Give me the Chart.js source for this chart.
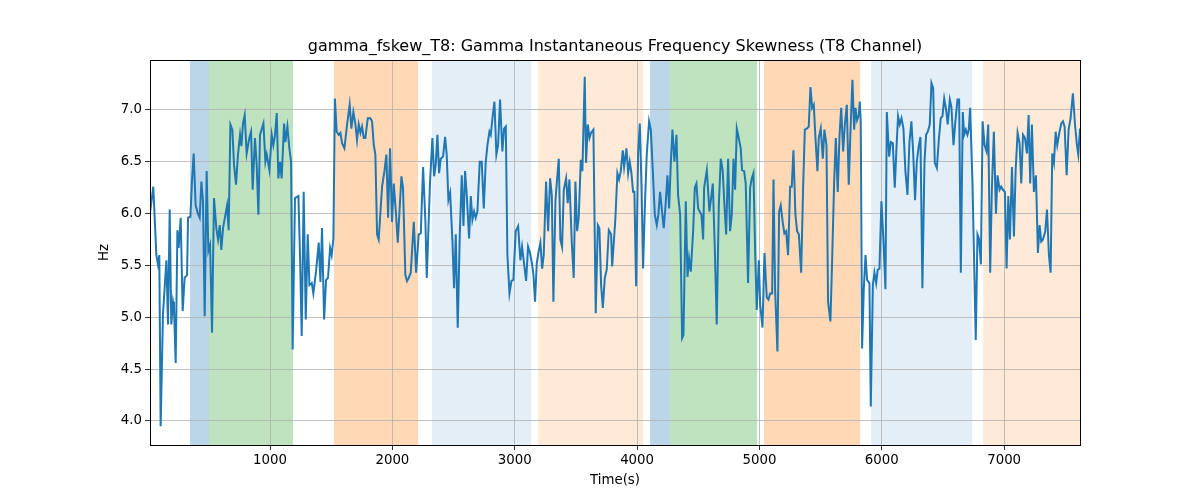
<!DOCTYPE html>
<html>
<head>
<meta charset="utf-8">
<script src="https://cdn.jsdelivr.net/npm/chart.js@4"></script>
<style>
  body { margin: 0; background: #fff; }
  #Plot { display: block; }
</style>
</head>
<body>
<canvas id="Plot" width="1200" height="500"></canvas>
<script>
// sample times (s) and skewness values (Hz)
var timeSec = [
  20, 46, 71, 84, 95, 106, 125, 153, 166, 180,
  193, 207, 215, 229, 243, 253, 270, 286, 302, 322,
  330, 349, 362, 376, 392, 411, 425, 439, 452, 466,
  482, 496, 510, 526, 542, 561, 575, 589, 602, 616,
  649, 662, 676, 692, 706, 722, 738, 755, 766, 779,
  793, 809, 831, 845, 858, 877, 891, 905, 918, 946,
  962, 973, 995, 1014, 1027, 1041, 1055, 1068, 1082, 1095,
  1115, 1125, 1142, 1158, 1172, 1185, 1204, 1232, 1245, 1259,
  1275, 1292, 1308, 1322, 1341, 1354, 1376, 1398, 1412, 1425,
  1442, 1458, 1474, 1491, 1504, 1518, 1530,
  1545, 1561, 1575, 1589, 1608, 1630, 1651, 1665, 1681, 1698,
  1711, 1725, 1739, 1752, 1766, 1779, 1799, 1820, 1834, 1848,
  1861, 1875, 1888, 1916, 1935, 1951, 1965, 1981, 1997, 2011,
  2030, 2044, 2074, 2087, 2106, 2120, 2134, 2150, 2175, 2194,
  2215, 2232, 2251, 2270, 2281,
  2308, 2327, 2341, 2354, 2368, 2382, 2395, 2414, 2431, 2444,
  2458, 2472, 2491, 2504, 2518, 2534, 2551, 2567, 2581, 2594,
  2608, 2627, 2641, 2654, 2668, 2681, 2695, 2714, 2730, 2747,
  2763, 2777, 2793, 2804, 2818, 2834, 2850, 2864, 2880, 2899,
  2913, 2927, 2940, 2957, 2973, 2989, 3008, 3028,
  3046, 3060, 3074, 3093, 3109, 3125, 3142, 3153, 3166, 3180,
  3196, 3210, 3224, 3237, 3256, 3273, 3289, 3303, 3316, 3333,
  3346, 3360, 3373, 3387, 3401, 3420, 3433, 3447, 3466, 3482,
  3496, 3510, 3523, 3540, 3553, 3572, 3583, 3597, 3611, 3624,
  3643, 3662, 3679, 3692, 3706, 3720, 3736, 3752, 3769, 3788,
  3796, 3812, 3823, 3839, 3853, 3867, 3883, 3894, 3913, 3927,
  3940, 3954, 3967, 3978, 3992, 4008, 4022, 4036, 4049, 4063,
  4079, 4098, 4112, 4125, 4145, 4161, 4174, 4188, 4204, 4218,
  4232, 4248, 4262, 4275, 4289, 4305, 4322, 4335, 4352, 4368,
  4379, 4398, 4412, 4425, 4439, 4458, 4472, 4485, 4499, 4512,
  4526, 4540,
  4548, 4570, 4591, 4605, 4619, 4635, 4651, 4668, 4684, 4700,
  4714, 4728, 4744, 4760, 4774, 4788, 4801, 4815, 4831, 4847,
  4858, 4875, 4888, 4907, 4924, 4937, 4951, 4965, 4978, 4995,
  5006, 5025, 5041, 5060, 5074, 5087, 5104, 5115, 5128, 5147,
  5161, 5174, 5191, 5204, 5218, 5234, 5251, 5264, 5278,
  5294, 5308, 5322, 5341, 5357, 5371, 5387, 5403, 5417, 5431,
  5444, 5458, 5474, 5485, 5501, 5518, 5531, 5548, 5561, 5580,
  5594, 5610, 5624, 5640, 5654, 5668, 5684, 5698, 5714, 5730,
  5744, 5760, 5774, 5785, 5798, 5812, 5820, 5828, 5839, 5853,
  5867, 5880, 5899, 5910, 5927, 5940, 5954, 5967, 5981, 5997,
  6014, 6030, 6041,
  6060, 6074, 6090, 6106, 6120, 6133, 6147, 6161, 6177, 6193,
  6210, 6226, 6242, 6256, 6272, 6286, 6302, 6316, 6332, 6349,
  6362, 6376, 6392, 6406, 6420, 6433, 6450, 6466, 6482, 6496,
  6510, 6526, 6539, 6556, 6569, 6586, 6602, 6619, 6632, 6646,
  6662, 6673, 6687, 6700, 6711, 6722, 6741, 6768, 6782,
  6794, 6810, 6824, 6840, 6856, 6870, 6886, 6900, 6916, 6933,
  6946, 6963, 6976, 6990, 7006, 7020, 7034, 7047, 7064, 7080,
  7094, 7110, 7126, 7140, 7154, 7170, 7186, 7200, 7213, 7227,
  7243, 7260, 7276, 7290, 7303, 7317, 7336, 7350, 7366, 7380,
  7393, 7407, 7421, 7434, 7451, 7467, 7481, 7494, 7511, 7527,
  7543, 7562, 7579, 7595, 7606, 7620
];
var skewHz = [
  6.02, 6.26, 5.60, 5.51, 5.60, 3.95, 5.03, 5.55, 4.93, 6.04,
  4.93, 5.15, 5.09, 4.56, 5.84, 5.67, 5.96, 5.06, 5.38, 5.41,
  5.96, 5.97, 6.31, 6.58, 6.08, 6.00, 5.96, 6.31, 6.12, 5.01,
  6.41, 5.64, 5.70, 4.85, 6.15, 5.86, 5.75, 5.89, 5.65, 5.86,
  6.08, 5.84, 6.86, 6.81, 6.47, 6.28, 6.57, 6.76, 6.65, 6.87,
  6.95, 6.58, 6.73, 6.79, 6.23, 6.73, 6.47, 5.99, 6.76, 6.87,
  6.50, 6.57, 6.42, 6.76, 6.66, 6.76, 6.97, 6.34, 6.50, 6.34,
  6.87, 6.69, 6.84, 6.63, 6.50, 4.69, 6.15, 6.17, 5.60, 4.82,
  6.21, 4.98, 5.80, 5.31, 5.33, 5.23, 5.44, 5.72, 5.34, 5.86,
  4.98, 5.36, 5.38, 5.67, 5.60, 5.76, 7.11,
  6.79, 6.76, 6.78, 6.68, 6.63, 6.86, 7.05, 6.82, 6.98, 6.86,
  6.71, 6.86, 6.78, 6.84, 6.73, 6.73, 6.92, 6.92, 6.89, 6.66,
  6.57, 5.80, 5.75, 6.26, 6.41, 6.57, 5.96, 6.63, 5.92, 6.29,
  5.99, 5.72, 6.36, 6.25, 5.41, 5.35, 5.38, 5.43, 5.92, 5.43,
  5.80, 5.81, 6.45, 5.92, 5.38,
  6.31, 6.73, 6.36, 6.47, 6.76, 6.39, 6.53, 6.55, 6.74, 6.57,
  6.13, 6.20, 5.73, 5.28, 5.80, 4.90, 5.80, 6.37, 5.88, 6.41,
  6.18, 5.76, 6.17, 5.94, 6.02, 5.96, 6.02, 6.50, 6.50, 6.05,
  6.50, 6.66, 6.79, 6.76, 6.92, 7.08, 6.57, 6.66, 7.10, 6.60,
  6.82, 6.84, 5.60, 5.23, 5.35, 5.36, 5.83, 5.88,
  5.55, 5.68, 5.54, 5.35, 5.68, 5.62, 5.51, 5.41, 5.15, 5.52,
  5.64, 5.72, 5.47, 5.60, 6.31, 5.83, 6.34, 6.18, 5.15, 6.13,
  6.33, 6.53, 5.75, 5.68, 6.23, 6.34, 6.10, 6.33, 5.73, 5.38,
  6.31, 5.83, 5.96, 6.52, 6.41, 7.32, 6.49, 6.86, 6.73, 6.78,
  6.81, 5.04, 5.89, 5.86, 5.31, 5.09, 5.38, 5.46, 5.84, 5.80,
  5.49, 5.76, 5.96, 6.39, 6.33, 6.41, 6.61, 6.45, 6.63, 6.39,
  6.50, 6.39, 6.21, 6.21, 5.30, 6.57, 6.87, 6.28, 5.47, 6.05,
  6.57, 6.89, 6.81, 6.50, 5.99, 5.89, 5.99, 6.21, 6.02, 5.86,
  6.07, 6.37, 6.05, 6.47, 6.81, 6.50, 6.76, 6.18, 5.99, 4.80,
  4.83, 6.12, 5.39, 5.57, 5.44, 5.83, 6.25, 6.29, 6.05, 6.02,
  5.99, 5.75,
  6.25, 6.42, 6.02, 6.15, 6.29, 5.67, 4.93, 6.08, 6.53, 6.41,
  6.08, 5.80, 6.53, 5.83, 5.99, 6.53, 6.23, 6.82, 6.73, 6.63,
  6.42, 6.41, 6.29, 5.33, 6.25, 6.34, 6.39, 5.64, 5.07, 5.55,
  5.12, 4.90, 5.62, 5.19, 5.17, 5.23, 5.23, 6.33, 5.27, 4.67,
  6.02, 6.08, 5.91, 5.81, 5.83, 5.60, 6.26, 6.26, 6.61,
  5.99, 5.83, 5.80, 5.43, 6.25, 6.81, 6.82, 6.84, 7.22, 7.02,
  7.05, 6.73, 6.41, 6.73, 6.82, 6.53, 6.81, 6.66, 5.15, 4.96,
  5.54, 6.28, 6.73, 6.21, 6.74, 7.02, 6.60, 6.86, 7.05, 6.28,
  6.79, 7.29, 6.81, 7.02, 6.90, 6.95, 7.08, 6.89, 4.70, 5.28,
  5.60, 5.36, 5.33, 4.14, 5.31, 5.43, 5.33, 5.46, 5.47, 6.12,
  5.73, 5.27, 6.98,
  6.55, 6.69, 6.68, 6.25, 6.63, 6.94, 6.86, 6.92, 6.82, 6.41,
  6.18, 6.69, 6.89, 6.60, 6.13, 6.50, 6.65, 6.74, 5.28, 6.50,
  6.76, 6.79, 6.86, 7.26, 7.21, 6.49, 6.44, 6.71, 6.92, 6.94,
  7.11, 7.00, 6.86, 7.10, 7.03, 6.66, 6.90, 7.10, 7.10, 5.43,
  6.98, 6.76, 6.81, 6.76, 6.81, 7.02, 6.31, 4.78, 5.80,
  5.76, 5.51, 6.89, 6.66, 6.60, 6.86, 5.43, 6.25, 6.79, 6.00,
  6.37, 6.23, 6.26, 6.23, 6.21, 5.47, 6.17, 5.75, 6.45, 5.78,
  6.42, 6.78, 6.68, 6.29, 6.76, 6.73, 6.58, 6.95, 6.29, 6.86,
  6.21, 6.37, 5.62, 5.89, 5.73, 5.75, 5.83, 6.04, 5.60, 5.43,
  6.58, 6.49, 6.79, 6.66, 6.78, 6.87, 6.89, 6.84, 6.37, 6.81,
  6.92, 7.16, 6.86, 6.66, 6.57, 6.82
];

// shaded spans
var bandStart = [346, 501, 1523, 2324, 3191, 4106, 4270, 5038, 5913, 6829];
var bandEnd   = [501, 1188, 2210, 3134, 4049, 4270, 4981, 5823, 6739, 7620];
var bandColor = [
  'rgba(31,119,180,0.3)', 'rgba(44,160,44,0.3)', 'rgba(255,127,14,0.3)',
  'rgba(31,119,180,0.12)', 'rgba(255,127,14,0.16)',
  'rgba(31,119,180,0.3)', 'rgba(44,160,44,0.3)', 'rgba(255,127,14,0.3)',
  'rgba(31,119,180,0.12)', 'rgba(255,127,14,0.16)'
];

// tick positions
var xTickVals = [1000, 2000, 3000, 4000, 5000, 6000, 7000];
var yTickVals = [4.0, 4.5, 5.0, 5.5, 6.0, 6.5, 7.0];

var xMin = 19, xMax = 7620;
var yMin = 3.768, yMax = 7.482;

var points = [];
for (var i = 0; i < timeSec.length; i++) {
  points.push({x: timeSec[i], y: skewHz[i]});
}

var spans = {
  id: 'spans',
  beforeDraw: function(chart) {
    var c = chart.ctx, a = chart.chartArea, xs = chart.scales.x;
    c.save();
    for (var i = 0; i < bandStart.length; i++) {
      var x0 = Math.max(xs.getPixelForValue(bandStart[i]), a.left);
      var x1 = Math.min(xs.getPixelForValue(bandEnd[i]), a.right);
      c.fillStyle = bandColor[i];
      c.fillRect(x0, a.top, x1 - x0, a.bottom - a.top);
    }
    c.restore();
  },
  afterDraw: function(chart) {
    var c = chart.ctx, a = chart.chartArea;
    c.save();
    c.strokeStyle = '#000';
    c.lineWidth = 1;
    c.strokeRect(Math.round(a.left) + 0.5, Math.round(a.top) + 0.5,
                 Math.round(a.right - a.left), Math.round(a.bottom - a.top));
    c.restore();
  }
};

Chart.defaults.font.family = 'DejaVu Sans';
Chart.defaults.color = '#000';

var ctx = document.getElementById('Plot').getContext('2d');
var myChart = new Chart(ctx, {
  type: 'line',
  data: {
    datasets: [{
      data: points,
      borderColor: '#1f77b4',
      backgroundColor: '#1f77b4',
      borderWidth: 2,
      pointRadius: 0,
      tension: 0,
      fill: false
    }]
  },
  plugins: [spans],
  options: {
    responsive: false,
    animation: false,
    layout: {padding: {left: 0, right: 120, top: 0, bottom: 0}},
    plugins: {
      legend: {display: false},
      tooltip: {enabled: false},
      title: {
        display: true,
        fullSize: false,
        text: 'gamma_fskew_T8: Gamma Instantaneous Frequency Skewness (T8 Channel)',
        font: {size: 16, weight: 'normal'},
        padding: {top: 37, bottom: 3.8}
      }
    },
    scales: {
      x: {
        type: 'linear',
        min: xMin,
        max: xMax,
        afterFit: function(s) { s.height = 55; },
        afterBuildTicks: function(s) {
          s.ticks = xTickVals.map(function(v) { return {value: v}; });
        },
        grid: {color: '#b0b0b0', lineWidth: 0.8, tickColor: '#000', tickLength: 5},
        border: {display: false},
        ticks: {
          autoSkip: false,
          maxRotation: 0,
          padding: 3,
          font: {size: 13.33},
          callback: function(v) { return String(v); }
        },
        title: {display: true, text: 'Time(s)', font: {size: 13.33}, padding: {top: 0, bottom: 11}}
      },
      y: {
        min: yMin,
        max: yMax,
        afterFit: function(s) { s.width = 150; },
        afterBuildTicks: function(s) {
          s.ticks = yTickVals.map(function(v) { return {value: v}; });
        },
        grid: {color: '#b0b0b0', lineWidth: 0.8, tickColor: '#000', tickLength: 5},
        border: {display: false},
        ticks: {
          autoSkip: false,
          padding: 3,
          font: {size: 13.33},
          callback: function(v) { return v.toFixed(1); }
        },
        title: {display: true, text: 'Hz', font: {size: 13.33}, padding: {top: 97, bottom: 0}}
      }
    }
  }
});
</script>
</body>
</html>
